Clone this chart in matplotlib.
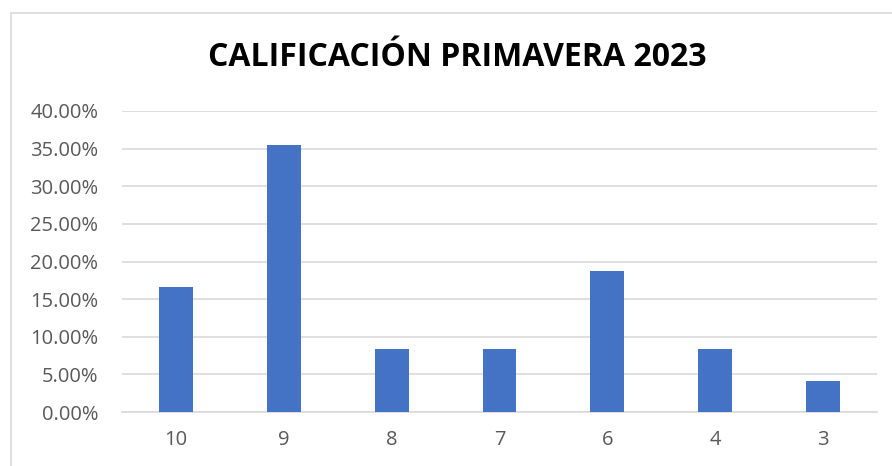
import matplotlib.pyplot as plt
from matplotlib.patches import Rectangle
from matplotlib.ticker import FuncFormatter

categories = ['10', '9', '8', '7', '6', '4', '3']
percentages = [16.67, 35.42, 8.33, 8.33, 18.75, 8.33, 4.17]
title = 'CALIFICACIÓN PRIMAVERA 2023'

plt.rcParams['font.family'] = ['Open Sans', 'DejaVu Sans']

fig = plt.figure(figsize=(8.92, 4.66), dpi=100)
ax = fig.add_axes([122 / 892, 1 - 412 / 466, (877 - 122) / 892, (412 - 111) / 466])

# light chart border (left and top edges visible)
fig.patches.append(Rectangle((10.5 / 892, -0.1), 1.2, 1 - 12.5 / 466 + 0.1,
                             transform=fig.transFigure, fill=False,
                             edgecolor='#D9D9D9', linewidth=1.2))

x = range(len(categories))
ax.bar(x, percentages, width=0.315, color='#4472C4', zorder=3)

ax.set_xlim(-0.5, len(categories) - 0.5)
ax.set_ylim(0, 40)
ax.set_yticks(range(0, 41, 5))
ax.yaxis.set_major_formatter(FuncFormatter(lambda v, p: '%.2f%%' % v))
ax.set_xticks(list(x))
ax.set_xticklabels(categories)

ax.grid(axis='y', color='#D9D9D9', linewidth=1.2, zorder=0)
for s in ['top', 'right', 'left']:
    ax.spines[s].set_visible(False)
ax.spines['bottom'].set_color('#D9D9D9')
ax.spines['bottom'].set_linewidth(1.2)
ax.tick_params(axis='both', length=0, labelsize=14.5, labelcolor='#595959')
ax.tick_params(axis='y', pad=17)
ax.tick_params(axis='x', pad=13)

fig.text(457 / 892, 1 - 58 / 466, title, ha='center', va='center',
         fontsize=23, fontweight='bold', color='black')

fig.savefig('out.png', dpi=100)
